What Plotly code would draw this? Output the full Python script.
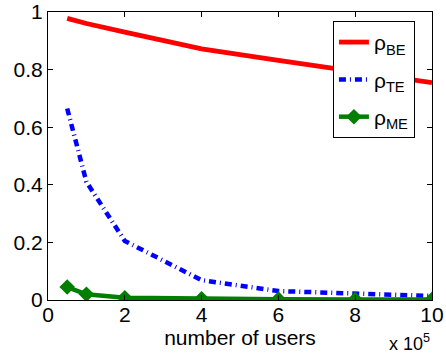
import plotly.graph_objects as go

users_1e5 = [0.5, 1, 2, 4, 6, 8, 10]
rho_be = [0.978, 0.960, 0.930, 0.872, 0.832, 0.792, 0.755]
rho_te = [0.665, 0.41, 0.205, 0.069, 0.031, 0.024, 0.014]
rho_me = [0.045, 0.020, 0.008, 0.004, 0.003, 0.002, 0.002]
x_ticks = [0, 2, 4, 6, 8, 10]
y_ticks = [0, 0.2, 0.4, 0.6, 0.8, 1]

FONT = "Liberation Sans, Arial, sans-serif"
FS = 21

fig = go.Figure()
fig.add_trace(go.Scatter(x=users_1e5, y=rho_be, mode="lines", name="ρ<sub>BE</sub>",
                         line=dict(color="#ff0000", width=4.8), legendgroup="a"))
fig.add_trace(go.Scatter(x=users_1e5, y=rho_te, mode="lines", name="ρ<sub>TE</sub>",
                         line=dict(color="#0000ff", width=4.5, dash="7px,4px,1px,4px"), legendgroup="b"))
fig.add_trace(go.Scatter(x=users_1e5, y=rho_me, mode="lines+markers", name="ρ<sub>ME</sub>",
                         line=dict(color="#007f00", width=4.5),
                         marker=dict(symbol="diamond", size=12, color="#007f00"), legendgroup="c"))

axis_common = dict(showgrid=False, zeroline=False, showline=True, linecolor="black", linewidth=1,
                   mirror="ticks", ticks="inside", ticklen=5, tickcolor="black", automargin=False,
                   tickfont=dict(family=FONT, size=FS, color="black"))

fig.update_layout(
    width=446, height=360,
    margin=dict(l=48, r=14, t=12, b=60, autoexpand=False),
    plot_bgcolor="white", paper_bgcolor="white",
    font=dict(family=FONT, color="black"),
    xaxis=dict(range=[0, 10], tickvals=x_ticks, ticktext=[str(v) for v in x_ticks],
               ticklabelstandoff=-4,
               title=dict(text="number of users", font=dict(family=FONT, size=FS), standoff=2),
               **axis_common),
    yaxis=dict(range=[0, 1], tickvals=y_ticks, ticktext=["0", "0.2", "0.4", "0.6", "0.8", "1"],
               **axis_common),
    legend=dict(x=0.742, y=0.969, xanchor="left", yanchor="top", bgcolor="white",
                bordercolor="black", borderwidth=1, font=dict(family=FONT, size=FS),
                tracegroupgap=7),
    showlegend=True,
)
fig.add_annotation(text="x 10<sup>5</sup>", xref="paper", yref="paper", x=1.0, y=-0.10,
                   xanchor="right", yanchor="top", showarrow=False,
                   font=dict(family=FONT, size=18, color="black"))

fig.write_html("out.html", config={"displayModeBar": False},
               post_script="document.body.style.margin='0';document.body.style.overflow='hidden';")
